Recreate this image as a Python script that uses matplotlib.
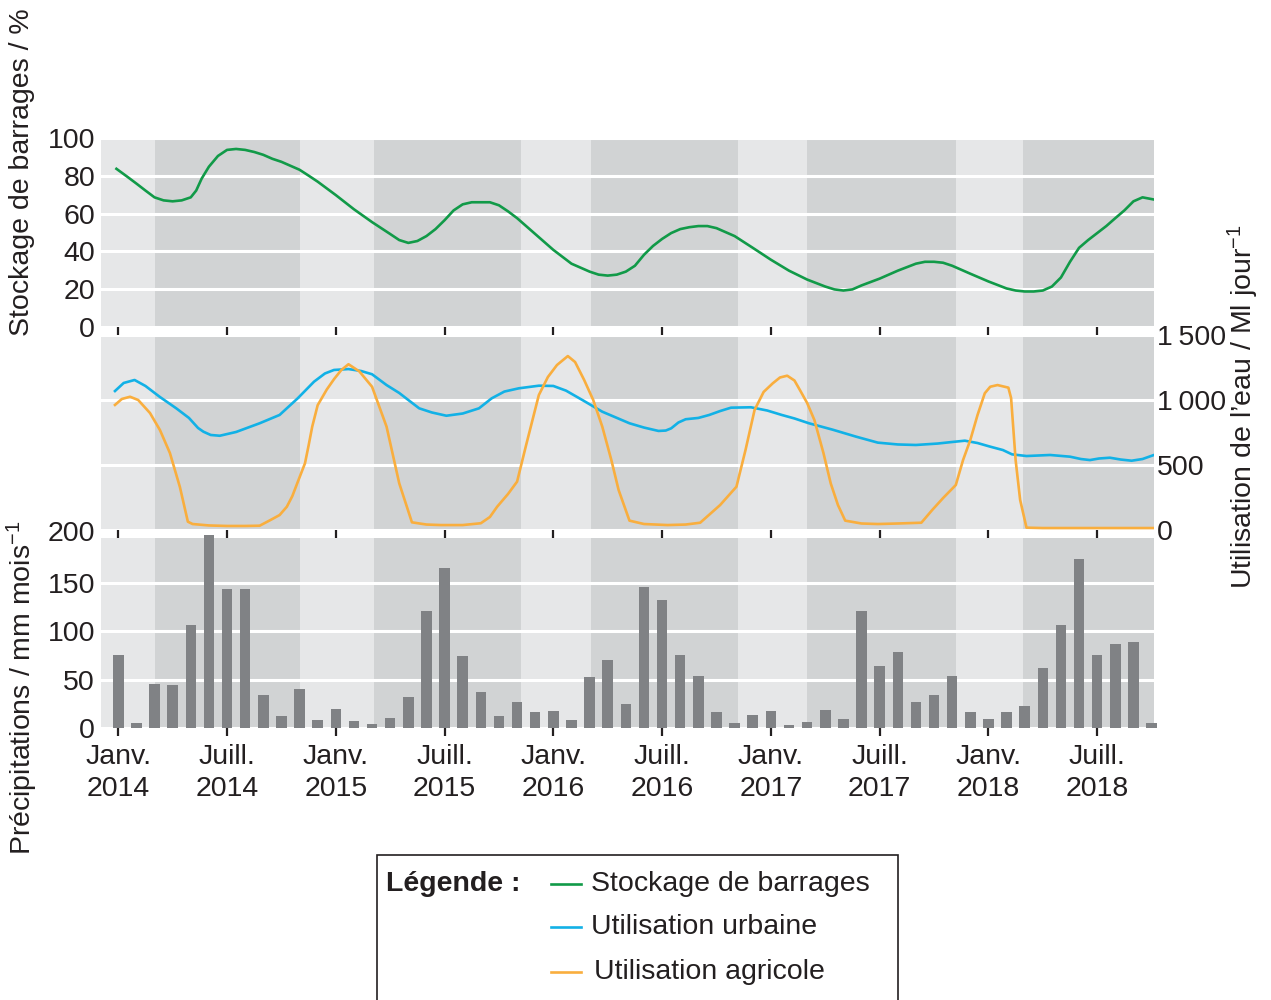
import numpy as np
import matplotlib.pyplot as plt
from matplotlib.patches import Rectangle
from matplotlib.lines import Line2D

plt.rcParams['font.family'] = ['Liberation Sans', 'DejaVu Sans']
plt.rcParams['mathtext.fontset'] = 'custom'
plt.rcParams['mathtext.rm'] = 'Liberation Sans'
plt.rcParams['mathtext.default'] = 'regular'
plt.rcParams['font.size'] = 20.5
plt.rcParams['text.color'] = '#231f20'

# --------------------- données (mois : 0 = janv. 2014) ---------------------
months = np.arange(58)
precip = [75, 5, 45, 44, 106, 199, 143, 143, 34, 12, 40, 8,
          20, 7, 4, 10, 32, 121, 165, 74, 37, 12, 27, 16,
          18, 8, 53, 70, 25, 145, 132, 75, 54, 17, 5, 13,
          18, 3, 6, 19, 9, 121, 64, 78, 27, 34, 54, 16,
          9, 17, 23, 62, 106, 174, 75, 87, 89, 5]

storage_x = [-0.1, 0.5, 1.0, 1.5, 2.0, 2.5, 3.0, 3.5, 4.0, 4.3, 4.6, 5.0, 5.5, 6.0, 6.5,
             7.0, 7.5, 8.0, 8.5, 9.0, 9.5, 10.0, 10.5, 11.0, 12.0, 13.0, 14.0, 15.0, 15.5,
             16.0, 16.5, 17.0, 17.5, 18.0, 18.5, 19.0, 19.5, 20.0, 20.5, 21.0, 21.5, 22.0,
             23.0, 24.0, 25.0, 26.0, 26.5, 27.0, 27.5, 28.0, 28.5, 29.0, 29.5, 30.0, 30.5,
             31.0, 31.5, 32.0, 32.5, 33.0, 33.5, 34.0, 35.0, 36.0, 37.0, 38.0, 39.0, 39.5,
             40.0, 40.5, 41.0, 42.0, 43.0, 44.0, 44.5, 45.0, 45.5, 46.0, 47.0, 48.0, 49.0,
             49.5, 50.0, 50.5, 51.0, 51.5, 52.0, 52.5, 53.0, 53.5, 54.0, 54.5, 55.0, 55.5,
             56.0, 56.5, 57.1]
storage = [83.7, 79.5, 75.9, 72.2, 68.6, 67.0, 66.5, 67.0, 68.6, 72.2, 78.5, 84.8, 90.5, 93.7, 94.2,
           93.7, 92.6, 91.1, 89.0, 87.4, 85.3, 83.2, 80.1, 76.9, 69.8, 62.3, 55.5, 49.2, 46.0,
           44.5, 45.5, 48.1, 51.8, 56.5, 61.7, 64.9, 66.0, 66.0, 66.0, 64.4, 61.2, 57.6,
           49.2, 40.8, 33.5, 29.3, 27.7, 27.2, 27.7, 29.3, 32.4, 38.2, 42.9, 46.6, 49.7,
           51.8, 52.8, 53.4, 53.4, 52.3, 50.2, 48.1, 41.9, 35.6, 29.8, 25.1, 21.4, 19.9,
           19.3, 19.9, 22.0, 25.6, 29.8, 33.5, 34.5, 34.5, 34.0, 32.4, 28.2, 24.1, 20.4,
           19.3, 18.8, 18.8, 19.3, 21.4, 26.2, 34.5, 41.9, 46.0, 49.7, 53.4, 57.6, 61.7,
           66.5, 68.6, 67.5]

urban_x = [-0.18, 0.3, 0.9, 1.5, 2.3, 3.2, 3.9, 4.4, 4.7, 5.1, 5.6, 6.5, 7.8, 8.9, 9.9,
           10.8, 11.4, 11.9, 12.7, 13.4, 14.0, 14.8, 15.5, 16.0, 16.6, 17.3, 18.1, 19.0,
           19.9, 20.6, 21.3, 22.1, 23.2, 24.0, 24.7, 25.6, 26.7, 28.2, 29.0, 29.8, 30.2,
           30.5, 30.9, 31.3, 32.0, 32.6, 33.2, 33.8, 34.9, 35.8, 36.6, 37.3, 38.1, 39.4,
           40.7, 41.9, 43.0, 44.0, 45.2, 46.0, 46.7, 47.4, 48.1, 48.8, 49.3, 50.1, 51.4,
           52.5, 53.1, 53.6, 54.1, 54.7, 55.3, 55.9, 56.5, 57.13]
urban = [1069, 1131, 1154, 1108, 1023, 936, 862, 785, 756, 731, 725, 754, 821, 885, 1013,
         1141, 1204, 1231, 1238, 1223, 1198, 1115, 1054, 1000, 936, 904, 879, 896,
         936, 1013, 1065, 1090, 1110, 1108, 1072, 1000, 910, 821, 788, 762, 765,
         782, 827, 852, 862, 885, 915, 941, 944, 919, 885, 858, 821, 772,
         718, 672, 658, 654, 665, 677, 687, 669, 641, 615, 582, 569, 577,
         564, 546, 538, 550, 556, 542, 533, 546, 577]

agri_x = [-0.18, 0.2, 0.65, 1.1, 1.75, 2.3, 2.85, 3.4, 3.84, 4.1, 5.0, 6.0, 7.0, 7.8, 8.4,
          8.9, 9.3, 9.6, 9.9, 10.3, 10.5, 10.7, 11.0, 11.5, 11.9, 12.3, 12.7, 13.3, 14.0,
          14.8, 15.5, 16.2, 17.0, 17.8, 19.0, 20.0, 20.5, 20.9, 21.5, 22.0, 22.5, 23.2,
          23.7, 24.2, 24.8, 25.2, 25.7, 26.2, 26.7, 27.2, 27.6, 28.2, 29.0, 30.3, 31.3,
          32.1, 33.2, 34.1, 34.6, 35.1, 35.6, 36.1, 36.5, 36.9, 37.3, 37.6, 38.0, 38.4,
          38.9, 39.3, 39.7, 40.1, 41.0, 41.9, 43.0, 44.3, 44.9, 45.5, 46.2, 46.6, 47.0,
          47.4, 47.8, 48.1, 48.5, 49.1, 49.25, 49.5, 49.75, 50.1, 51.0, 57.13]
agri = [962, 1008, 1025, 1000, 900, 769, 592, 331, 64, 46, 35, 31, 31, 33, 77,
        115, 179, 260, 369, 513, 650, 795, 960, 1080, 1160, 1230, 1275, 1220, 1102,
        795, 359, 59, 42, 38, 38, 52, 100, 179, 277, 372, 654, 1038,
        1177, 1269, 1338, 1292, 1154, 1000, 795, 538, 308, 72, 46, 38, 42,
        56, 192, 333, 615, 923, 1062, 1128, 1173, 1187, 1150, 1077, 977, 846,
        592, 359, 192, 72, 50, 46, 50, 56, 154, 246, 346, 538, 692,
        885, 1052, 1102, 1115, 1095, 1015, 538, 231, 18, 15, 15]

# saisons sombres (avr.-oct.)
dark_start = [2.0, 14.1, 26.1, 38.0, 49.9]
dark_end = [10.0, 22.2, 34.2, 46.2, 57.2]

tick_pos = np.arange(0, 55, 6)
tick_labels = ['Janv.\n2014', 'Juill.\n2014', 'Janv.\n2015', 'Juill.\n2015', 'Janv.\n2016',
               'Juill.\n2016', 'Janv.\n2017', 'Juill.\n2017', 'Janv.\n2018', 'Juill.\n2018']

GREEN = '#119a48'
BLUE = '#12b1e6'
ORANGE = '#f9ae3e'
BAR = '#808285'
LIGHT = '#e6e7e8'
DARK = '#d1d3d4'
INK = '#231f20'

XMIN, XMAX = -0.97, 57.13

# --------------------- figure ---------------------
fig = plt.figure(figsize=(12.71, 10), dpi=100)
L, W = 0.0792, 0.8287
ax_top = fig.add_axes([L, 0.673, W, 0.189])
ax_mid = fig.add_axes([L, 0.470, W, 0.195])
ax_bot = fig.add_axes([L, 0.272, W, 0.190])

for ax in (ax_top, ax_mid, ax_bot):
    ax.set_facecolor(LIGHT)
    for s in ax.spines.values():
        s.set_visible(False)
    for a, b in zip(dark_start, dark_end):
        ax.axvspan(a, b, color=DARK, lw=0, zorder=0.1)
    ax.set_xlim(XMIN, XMAX)
    ax.set_xticks(tick_pos)
    ax.set_axisbelow(True)
    ax.yaxis.grid(True, color='white', lw=2.2)
    ax.tick_params(axis='x', direction='out', length=5.5, width=1.6, color=INK)
    ax.tick_params(axis='y', length=0, colors=INK)

ax_top.tick_params(axis='x', labelbottom=False)
ax_mid.tick_params(axis='x', labelbottom=False)

# stockage
ax_top.plot(storage_x, storage, color=GREEN, lw=1.9, label='Stockage de barrages')
ax_top.set_ylim(0, 100)
ax_top.set_yticks([0, 20, 40, 60, 80, 100])
ax_top.tick_params(axis='y', pad=4)

# utilisation
ax_mid.plot(urban_x, urban, color=BLUE, lw=1.9, label='Utilisation urbaine')
ax_mid.plot(agri_x, agri, color=ORANGE, lw=1.9, label='Utilisation agricole')
ax_mid.set_ylim(0, 1500)
ax_mid.set_yticks([0, 500, 1000, 1500])
ax_mid.set_yticklabels(['0', '500', '1\u2009000', '1\u2009500'])
ax_mid.yaxis.tick_right()
ax_mid.tick_params(axis='y', pad=2, length=0)

# précipitations
ax_bot.bar(months, precip, width=0.58, color=BAR, zorder=2, clip_on=False)
ax_bot.set_ylim(0, 196)
ax_bot.set_yticks([0, 50, 100, 150])
ax_bot.tick_params(axis='y', pad=4)
ax_bot.annotate('200', xy=(0, 200), xycoords=('axes fraction', 'data'),
                xytext=(-4, 0), textcoords='offset points', ha='right', va='center',
                annotation_clip=False)
ax_bot.set_xticklabels(tick_labels)
ax_bot.tick_params(axis='x', pad=6, labelcolor=INK)
for lbl in ax_bot.get_xticklabels():
    lbl.set_linespacing(1.32)

# titres des axes
fig.text(22 / 1271, 1 - 172 / 1000, 'Stockage de barrages / %', rotation=90,
         ha='center', va='center')
fig.text(22 / 1271, 1 - 688 / 1000, 'Précipitations / mm mois$^{-1}$', rotation=90,
         ha='center', va='center')
fig.text(1243 / 1271, 1 - 407 / 1000, 'Utilisation de l’eau / Ml jour$^{-1}$', rotation=90,
         ha='center', va='center')

# légende
fig.add_artist(Rectangle((377 / 1271, -0.05), (898 - 377) / 1271, 0.05 + (1000 - 855) / 1000,
                         transform=fig.transFigure, fill=False, lw=1.2, ec=INK))
fig.text(386 / 1271, 1 - 884 / 1000, 'Légende :', weight='bold', ha='left', va='center')
handles = ax_top.get_lines() + ax_mid.get_lines()
for h, ypx, xt in zip(handles, [884, 927, 972], [591, 591, 594]):
    yy = 1 - ypx / 1000
    fig.add_artist(Line2D([551 / 1271, 581 / 1271], [yy, yy], color=h.get_color(),
                          lw=1.9, transform=fig.transFigure))
    fig.text(xt / 1271, yy, h.get_label(), ha='left', va='center')

fig.savefig('out.png', dpi=100)
